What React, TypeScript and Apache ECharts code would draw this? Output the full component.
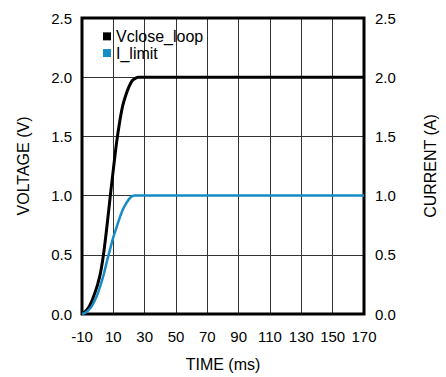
import React, { useEffect, useRef } from "react";
import * as echarts from "echarts";

const timeMs = [-10, -8, -6, -4, -2, 0, 2, 4, 6, 8, 10, 12, 14, 16, 18, 20, 22, 24, 26, 170];
const vcloseLoop = [0, 0.02, 0.05, 0.1, 0.17, 0.25, 0.36, 0.53, 0.75, 0.99, 1.22, 1.44, 1.62, 1.76, 1.85, 1.92, 1.97, 1.99, 2.0, 2.0];
const iLimit = [0, 0.01, 0.03, 0.06, 0.11, 0.17, 0.25, 0.34, 0.45, 0.55, 0.65, 0.73, 0.81, 0.88, 0.93, 0.97, 0.995, 1.0, 1.0, 1.0];
const seriesNames = ["Vclose_loop", "I_limit"];
const xAxisName = "TIME (ms)";
const leftAxisName = "VOLTAGE (V)";
const rightAxisName = "CURRENT (A)";

const FONT = "'Liberation Sans', Arial, Helvetica, sans-serif";
const BLUE = "#168cc6";

export default function App() {
  const ref = useRef<HTMLDivElement>(null);
  useEffect(() => {
    if (!ref.current) return;
    const chart = echarts.init(ref.current, undefined, { renderer: "svg" });
    const yAxisCommon = {
      type: "value",
      min: 0,
      max: 2.5,
      interval: 0.5,
      nameLocation: "middle",
      nameTextStyle: { fontSize: 16, color: "#000", fontFamily: FONT },
      axisLine: { show: false },
      axisTick: { show: false },
      axisLabel: {
        fontSize: 15,
        color: "#000",
        fontFamily: FONT,
        formatter: (v: number) => v.toFixed(1),
      },
    };
    chart.setOption({
      animation: false,
      textStyle: { fontFamily: FONT },
      grid: {
        left: 82,
        right: 72,
        top: 18,
        bottom: 60,
        show: true,
        borderWidth: 3,
        borderColor: "#000",
        z: 3,
      },
      legend: {
        orient: "vertical",
        left: 103,
        top: 28,
        padding: 0,
        itemGap: 0,
        itemWidth: 8,
        itemHeight: 8,
        icon: "rect",
        textStyle: { fontSize: 16, color: "#000", lineHeight: 16.7, fontFamily: FONT },
        data: seriesNames,
      },
      xAxis: {
        type: "value",
        min: -10,
        max: 170,
        interval: 20,
        name: xAxisName,
        nameLocation: "middle",
        nameGap: 42,
        nameTextStyle: { fontSize: 16, color: "#000", fontFamily: FONT },
        axisLine: { show: false },
        axisTick: { show: false },
        axisLabel: { fontSize: 15, color: "#000", margin: 15, fontFamily: FONT },
        splitLine: { show: true, lineStyle: { color: "#333", width: 1 } },
      },
      yAxis: [
        {
          ...yAxisCommon,
          position: "left",
          name: leftAxisName,
          nameGap: 51,
          axisLabel: { ...yAxisCommon.axisLabel, margin: 10 },
          splitLine: { show: true, lineStyle: { color: "#333", width: 1 } },
        },
        {
          ...yAxisCommon,
          position: "right",
          name: rightAxisName,
          nameGap: 58,
          axisLabel: { ...yAxisCommon.axisLabel, margin: 11 },
          splitLine: { show: false },
        },
      ],
      series: [
        {
          name: seriesNames[0],
          type: "line",
          yAxisIndex: 0,
          data: timeMs.map((t, i) => [t, vcloseLoop[i]]),
          showSymbol: false,
          smooth: 0.3,
          lineStyle: { color: "#000", width: 3 },
          itemStyle: { color: "#000" },
          z: 4,
        },
        {
          name: seriesNames[1],
          type: "line",
          yAxisIndex: 1,
          data: timeMs.map((t, i) => [t, iLimit[i]]),
          showSymbol: false,
          smooth: 0.3,
          lineStyle: { color: BLUE, width: 2.5 },
          itemStyle: { color: BLUE },
          z: 4,
        },
      ],
    });
    return () => chart.dispose();
  }, []);
  return (
    <div
      ref={ref}
      style={{ position: "absolute", left: 0, top: 0, width: 446, height: 377, background: "#fff" }}
    />
  );
}
